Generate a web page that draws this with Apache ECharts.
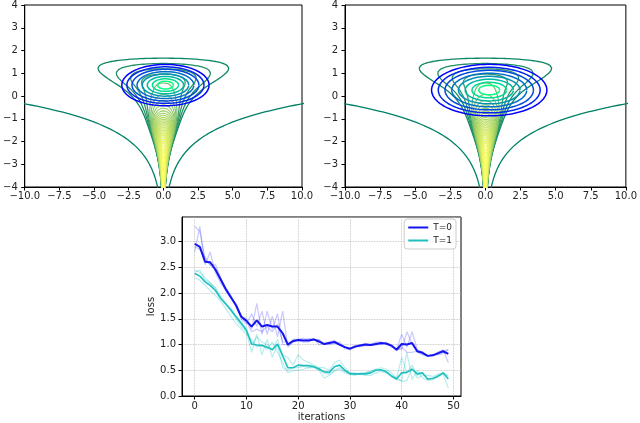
<!DOCTYPE html>
<html>
<head>
<meta charset="utf-8">
<script src="https://cdn.jsdelivr.net/npm/echarts@6/dist/echarts.min.js"></script>
<style>
  html, body { margin: 0; padding: 0; background: #fff; }
  #main { width: 640px; height: 423px; }
</style>
</head>
<body>
<div id="main"></div>
<script>
// target density (funnel): log p(x, y) = L(y) - x^2 / (2 sigma(y)^2)
const funnelMid = 0.45;         // y of the funnel head
const funnelSigmaMid = 2.58;    // x spread at the head
const funnelGrowth = 0.88;      // d ln(sigma) / dy
const funnelCapScale = 1.02;    // fall-off of L above the head
const funnelNeckDepth = 3.0;    // rise of L down the neck
const funnelNeckCentre = -1.4;
const funnelNeckSoft = 0.5;
// contour levels of log p: outer branch, head loops, then the dense neck
const funnelLevels = [-30, -0.7, -0.45, -0.25, -0.1,
  0.05, 0.15, 0.25, 0.35, 0.45, 0.55, 0.65, 0.75, 0.85, 0.95,
  1.05, 1.15, 1.25, 1.35, 1.45, 1.55, 1.65, 1.75, 1.85, 1.95,
  2.05, 2.15, 2.25, 2.35, 2.45, 2.55, 2.65, 2.75, 2.85, 2.93];
const funnelHeadCount = 5;      // levels before the neck ones

// fitted gaussians (blue contours): mean, std, contour radii in std units
const gaussLeftMean = [0.15, 0.48];
const gaussLeftStd = [1.465, 0.423];
const gaussRightMean = [0.27, 0.26];
const gaussRightStd = [1.91, 0.527];
const gaussRadii = [2.15, 1.9, 1.65, 1.4, 1.15, 0.9, 0.65, 0.4];

// loss curves
const iterTicks = [0, 10, 20, 30, 40, 50];
const lossT0 = [2.96,2.90,2.61,2.60,2.46,2.27,2.08,1.92,1.76,1.54,1.46,1.35,1.47,1.35,1.38,1.35,1.35,1.22,1.00,1.07,
                1.09,1.08,1.08,1.10,1.06,1.01,1.03,1.05,1.00,0.95,0.92,0.96,0.98,1.00,0.99,1.01,1.03,1.02,0.98,0.90,
                1.01,1.00,1.03,0.87,0.84,0.78,0.79,0.83,0.87,0.82];
const lossT1 = [2.38,2.33,2.22,2.15,2.05,1.90,1.79,1.67,1.54,1.41,1.28,1.01,0.99,0.98,0.95,0.90,1.01,0.78,0.55,0.55,
                0.60,0.59,0.59,0.57,0.53,0.47,0.46,0.57,0.60,0.50,0.43,0.43,0.43,0.43,0.45,0.50,0.51,0.47,0.39,0.33,
                0.45,0.46,0.52,0.43,0.45,0.33,0.34,0.38,0.45,0.33];
const runsT0 = [
  [3.30,3.20,2.65,2.55,2.45,2.30,2.10,1.95,1.75,1.55,1.50,1.30,1.80,1.20,1.65,1.30,1.60,1.00,1.00,1.10,
   1.10,1.08,1.12,1.10,1.08,1.00,1.05,1.08,1.00,0.95,0.92,0.98,1.00,1.02,1.00,1.05,1.05,1.00,0.98,0.90,
   1.20,0.95,1.25,0.90,0.85,0.78,0.80,0.85,0.90,0.65],
  [2.80,3.30,2.55,2.80,2.40,2.20,2.05,1.90,1.75,1.50,1.40,1.60,1.35,1.65,1.20,1.55,1.15,1.65,0.95,1.05,
   1.08,1.05,1.05,1.12,1.00,1.02,1.00,1.02,1.05,0.92,0.90,0.95,0.97,0.98,0.98,1.00,1.00,1.03,0.95,0.92,
   0.90,1.25,1.00,0.85,0.80,0.78,0.78,0.85,0.88,0.90],
  [2.90,2.85,2.70,2.55,2.55,2.30,2.05,1.90,1.80,1.55,1.45,1.25,1.30,1.25,1.35,1.25,1.40,1.05,1.05,1.05,
   1.10,1.12,1.08,1.08,1.10,1.02,1.04,1.05,0.98,0.96,0.92,0.97,0.98,1.00,1.00,1.00,1.03,1.02,1.00,0.88,
   0.95,0.85,0.85,0.87,0.86,0.78,0.80,0.80,0.83,0.90]
];
const runsT1 = [
  [2.45,2.40,2.30,2.20,2.10,1.95,1.80,1.65,1.50,1.35,1.25,0.85,1.20,0.80,1.10,0.75,1.00,0.55,0.50,0.55,
   0.55,0.58,0.55,0.55,0.50,0.45,0.42,0.50,0.55,0.48,0.45,0.42,0.42,0.40,0.40,0.45,0.48,0.45,0.38,0.32,
   0.30,0.85,0.32,0.50,0.35,0.30,0.32,0.40,0.42,0.15],
  [2.30,2.25,2.15,2.05,1.95,1.85,1.70,1.55,1.40,1.30,1.20,1.10,0.95,1.00,0.90,1.05,0.85,0.65,0.45,0.50,
   0.50,0.52,0.55,0.58,0.50,0.35,0.40,0.48,0.52,0.45,0.42,0.40,0.45,0.45,0.48,0.52,0.50,0.48,0.40,0.35,
   0.28,0.30,0.55,0.35,0.40,0.40,0.38,0.42,0.45,0.40],
  [2.40,2.45,2.25,2.20,2.10,1.90,1.80,1.70,1.55,1.45,1.30,1.00,1.15,1.05,1.00,0.90,1.10,0.80,0.75,0.60,
   0.80,0.70,0.65,0.60,0.55,0.55,0.50,0.65,0.70,0.55,0.45,0.45,0.42,0.45,0.48,0.52,0.55,0.52,0.45,0.35,
   0.75,0.45,0.60,0.40,0.45,0.32,0.35,0.40,0.45,0.38]
];

const font = 'DejaVu Sans';

function summer(t) {
  return 'rgb(' + Math.round(255 * t) + ',' + Math.round(127.5 + 127.5 * t) + ',102)';
}
function winter(t) {
  return 'rgb(0,' + Math.round(255 * t) + ',' + Math.round(255 * (1 - t / 2)) + ')';
}

function funnelL(y) {
  let v = funnelNeckDepth / (1 + Math.exp((y - funnelNeckCentre) / funnelNeckSoft));
  if (y > funnelMid) v -= Math.pow(y - funnelMid, 2) / (2 * funnelCapScale * funnelCapScale);
  return v;
}
function funnelSigma(y) {
  return funnelSigmaMid * Math.exp(funnelGrowth * (y - funnelMid));
}

// closed contour of the funnel at log density c (L is decreasing in y)
function funnelContour(c) {
  const yBot = -4.3;
  let yTop = 4.6;
  if (funnelL(yTop) < c) {
    let lo = yBot, hi = yTop;
    for (let i = 0; i < 60; i++) {
      const mid = (lo + hi) / 2;
      if (funnelL(mid) >= c) lo = mid; else hi = mid;
    }
    yTop = lo;
  }
  const n = 320;
  const right = [];
  for (let i = 0; i <= n; i++) {
    const u = i / n;
    const y = yTop - (yTop - yBot) * u * u;
    const d = Math.max(0, funnelL(y) - c);
    right.push([funnelSigma(y) * Math.sqrt(2 * d), y]);
  }
  const left = right.map(p => [-p[0], p[1]]).reverse();
  return left.concat(right.slice(1));
}

function ellipse(mean, std, r) {
  const pts = [];
  for (let i = 0; i <= 160; i++) {
    const t = i / 160 * Math.PI * 2;
    pts.push([mean[0] + std[0] * r * Math.cos(t), mean[1] + std[1] * r * Math.sin(t)]);
  }
  return pts;
}

function funnelColour(k) {
  if (k < funnelHeadCount) return summer(k * 0.06);
  const t = (k - funnelHeadCount) / (funnelLevels.length - 1 - funnelHeadCount);
  return summer(0.42 + 0.58 * Math.pow(t, 0.6));
}

function contourPanel(ax, mean, std) {
  const out = [];
  funnelLevels.forEach((c, k) => {
    out.push({
      type: 'line', xAxisIndex: ax, yAxisIndex: ax, data: funnelContour(c),
      symbol: 'none', silent: true, clip: true, z: 2,
      lineStyle: { width: k < funnelHeadCount ? 1.3 : 1.1, color: funnelColour(k) }
    });
  });
  gaussRadii.forEach((r, k) => {
    out.push({
      type: 'line', xAxisIndex: ax, yAxisIndex: ax, data: ellipse(mean, std, r),
      symbol: 'none', silent: true, clip: true, z: 3,
      lineStyle: { width: 1.5, color: winter(k / (gaussRadii.length - 1)) }
    });
  });
  return out;
}

function fmtTop(v) {
  return (v < 0 ? '\u2212' : '') + Math.abs(v).toFixed(1);
}
function fmtInt(v) {
  return (v < 0 ? '\u2212' : '') + Math.abs(v);
}

const axisCommon = {
  type: 'value',
  axisLine: { show: true, onZero: false, lineStyle: { color: '#000', width: 1 } },
  axisTick: { show: true, inside: false, length: 3.5, lineStyle: { color: '#000' } },
  axisLabel: { color: '#222', fontFamily: font, fontSize: 10, margin: 4 },
  splitLine: { show: false }
};

function topX(idx) {
  return Object.assign({}, axisCommon, {
    gridIndex: idx, min: -10, max: 10, interval: 2.5,
    axisLabel: Object.assign({}, axisCommon.axisLabel, { formatter: fmtTop })
  });
}
function topY(idx) {
  return Object.assign({}, axisCommon, {
    gridIndex: idx, min: -4, max: 4, interval: 1,
    axisLabel: Object.assign({}, axisCommon.axisLabel, { formatter: fmtInt, margin: 7 })
  });
}

const lossSeries = [];
runsT0.forEach(r => lossSeries.push({
  type: 'line', xAxisIndex: 2, yAxisIndex: 2, symbol: 'none', silent: true,
  data: r.map((v, i) => [i, v]),
  lineStyle: { width: 1.2, color: 'rgba(40,40,255,0.25)' }, z: 2
}));
runsT1.forEach(r => lossSeries.push({
  type: 'line', xAxisIndex: 2, yAxisIndex: 2, symbol: 'none', silent: true,
  data: r.map((v, i) => [i, v]),
  lineStyle: { width: 1.2, color: 'rgba(0,191,191,0.28)' }, z: 2
}));
lossSeries.push({
  name: 'T=0', type: 'line', xAxisIndex: 2, yAxisIndex: 2, symbol: 'none',
  data: lossT0.map((v, i) => [i, v]), color: '#1414f0',
  lineStyle: { width: 2, color: '#1414f0' }, z: 4
});
lossSeries.push({
  name: 'T=1', type: 'line', xAxisIndex: 2, yAxisIndex: 2, symbol: 'none',
  data: lossT1.map((v, i) => [i, v]), color: '#1fbfbf',
  lineStyle: { width: 1.6, color: '#1fbfbf' }, z: 4
});

const chart = echarts.init(document.getElementById('main'), null, { renderer: 'canvas' });
const option = {
  animation: false,
  backgroundColor: '#fff',
  textStyle: { fontFamily: font },
  grid: [
    { left: 18, top: 2, width: 284, height: 185, show: true, borderColor: '#000', borderWidth: 1 },
    { left: 345, top: 2, width: 286, height: 185, show: true, borderColor: '#000', borderWidth: 1 },
    { left: 182, top: 217, width: 279, height: 182, show: true, borderColor: '#000', borderWidth: 1 }
  ],
  xAxis: [
    topX(0), topX(1),
    Object.assign({}, axisCommon, {
      gridIndex: 2, min: -2.45, max: 51.45,
      name: 'iterations', nameLocation: 'middle', nameGap: 16,
      nameTextStyle: { color: '#222', fontFamily: font, fontSize: 10 },
      axisTick: Object.assign({}, axisCommon.axisTick, { customValues: iterTicks }),
      axisLabel: Object.assign({}, axisCommon.axisLabel, { customValues: iterTicks, margin: 5 }),
      splitLine: { show: true, lineStyle: { type: 'dotted', color: '#b8b8b8', width: 0.8 } }
    })
  ],
  yAxis: [
    topY(0), topY(1),
    Object.assign({}, axisCommon, {
      gridIndex: 2, min: 0, max: 3.48, interval: 0.5,
      name: 'loss', nameLocation: 'middle', nameGap: 22, nameRotate: 90,
      nameTextStyle: { color: '#222', fontFamily: font, fontSize: 10 },
      axisLabel: Object.assign({}, axisCommon.axisLabel, {
        formatter: v => v.toFixed(1), showMaxLabel: false, margin: 6
      }),
      splitLine: { show: true, lineStyle: { type: 'dotted', color: '#b8b8b8', width: 0.8 } }
    })
  ],
  legend: {
    data: [{ name: 'T=0', icon: 'rect' }, { name: 'T=1', icon: 'rect' }],
    orient: 'vertical', right: 184, top: 219,
    itemWidth: 20, itemHeight: 2, itemGap: 4,
    padding: [4, 4, 4, 4],
    borderColor: '#cccccc', borderWidth: 1, borderRadius: 3,
    backgroundColor: 'rgba(255,255,255,0.8)',
    textStyle: { color: '#222', fontFamily: font, fontSize: 9 }
  },
  series: [].concat(
    contourPanel(0, gaussLeftMean, gaussLeftStd),
    contourPanel(1, gaussRightMean, gaussRightStd),
    lossSeries
  )
};
chart.setOption(option);
</script>
</body>
</html>
